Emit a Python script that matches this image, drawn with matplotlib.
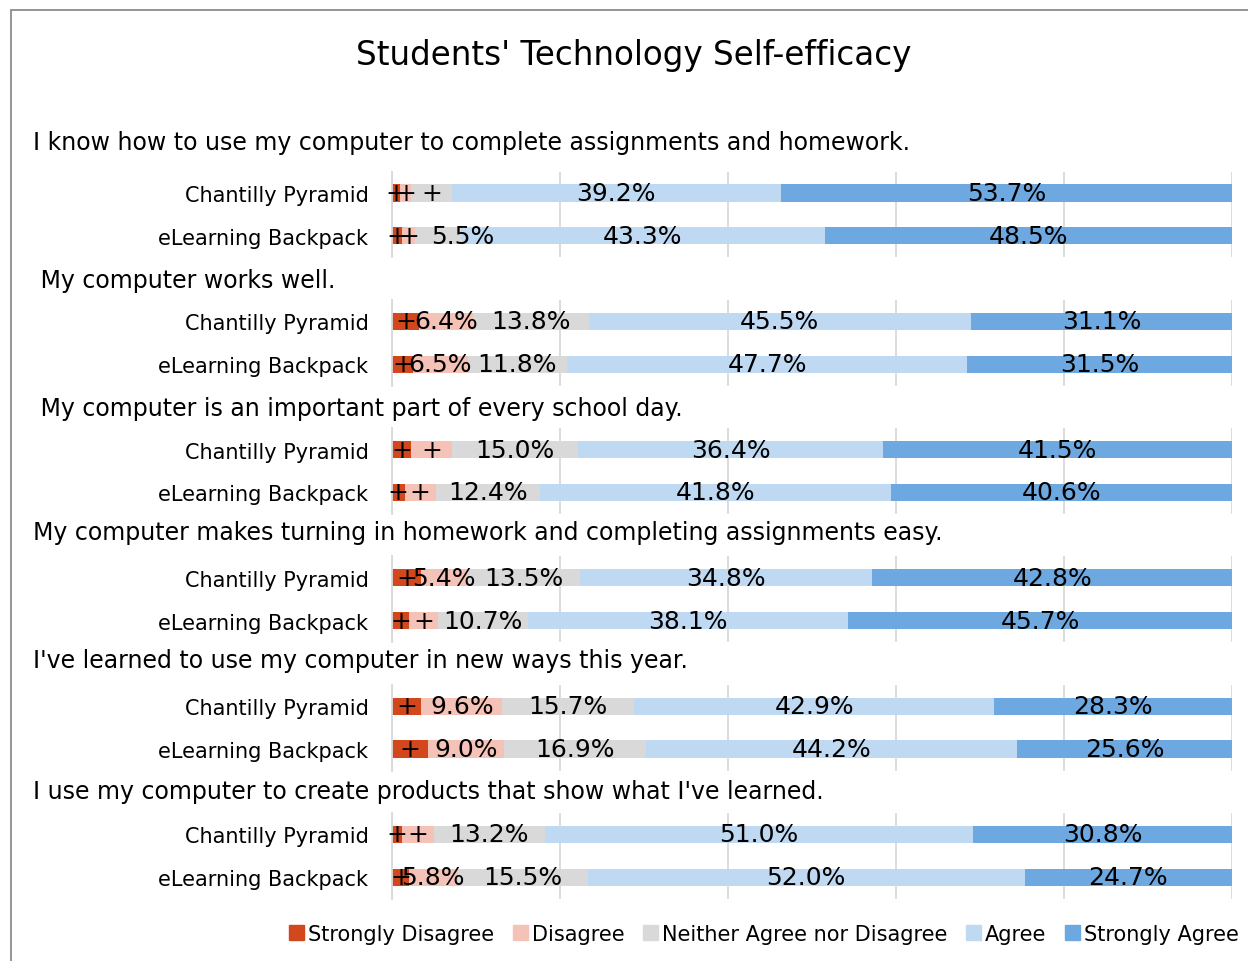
"""Students' technology self-efficacy: stacked Likert bars per survey question."""

import matplotlib
matplotlib.use("Agg")
import matplotlib.pyplot as plt
from matplotlib.patches import Rectangle, Patch

# --- data -------------------------------------------------------------------
questions = [
    "I know how to use my computer to complete assignments and homework.",
    " My computer works well.",
    " My computer is an important part of every school day.",
    "My computer makes turning in homework and completing assignments easy.",
    "I've learned to use my computer in new ways this year.",
    "I use my computer to create products that show what I've learned.",
]
groups = ["Chantilly Pyramid", "eLearning Backpack"]
responses = ["Strongly Disagree", "Disagree", "Neither Agree nor Disagree",
             "Agree", "Strongly Agree"]

# percent per question, [Chantilly, eLearning]
strongly_disagree = [[1.0, 1.2], [3.2, 2.5], [2.3, 1.5], [3.5, 2.0], [3.5, 4.3], [1.2, 2.0]]
disagree          = [[1.3, 1.5], [6.4, 6.5], [4.8, 3.7], [5.4, 3.5], [9.6, 9.0], [3.8, 5.8]]
neither           = [[4.8, 5.5], [13.8, 11.8], [15.0, 12.4], [13.5, 10.7], [15.7, 16.9], [13.2, 15.5]]
agree             = [[39.2, 43.3], [45.5, 47.7], [36.4, 41.8], [34.8, 38.1], [42.9, 44.2], [51.0, 52.0]]
strongly_agree    = [[53.7, 48.5], [31.1, 31.5], [41.5, 40.6], [42.8, 45.7], [28.3, 25.6], [30.8, 24.7]]

series = [strongly_disagree, disagree, neither, agree, strongly_agree]
colors = ["#D2471C", "#F4C2B6", "#D9D9D9", "#C0D9F2", "#6EA8E0"]

# --- layout (pixels) --------------------------------------------------------
W, H = 1248, 962
X0, X1 = 392, 1232          # 0% and 100%
TOP0 = 172.5                # top of first group's plot area
GROUP_STEP = 128.3
ROW = 42.9
HEADER_Y = [143, 281, 409, 533, 661, 792]

plt.rcParams["font.family"] = "DejaVu Sans"
fig = plt.figure(figsize=(W / 100, H / 100), dpi=100)

# chart frame (only left/top visible in the crop)
fig.patches.append(Rectangle((11 / W, -0.1), 1.2, 1 - 11 / H + 0.1,
                             transform=fig.transFigure, fill=False,
                             edgecolor="#8C8C8C", linewidth=1.3))

fig.text(634 / W, 1 - 55 / H, "Students' Technology Self-efficacy",
         ha="center", va="center", fontsize=23.5)

for qi, question in enumerate(questions):
    top = TOP0 + GROUP_STEP * qi
    ax = fig.add_axes([X0 / W, 1 - (top + 2 * ROW) / H, (X1 - X0) / W, 2 * ROW / H])
    ypos = [0, 1]
    left = [0.0, 0.0]
    for s, vals in enumerate(series):
        v = vals[qi]
        ax.barh(ypos, v, left=left, height=0.4, color=colors[s], zorder=2)
        for r in range(2):
            txt = f"{v[r]:.1f}%" if v[r] >= 5 else "+"
            xc = left[r] + v[r] / 2
            # Excel nudged this label right, clear of the "+" marks
            if qi == 0 and r == 1 and s == 2:
                xc += 3
            ax.text(xc, ypos[r], txt, ha="center", va="center",
                    fontsize=18, zorder=3)
        left = [left[r] + v[r] for r in range(2)]

    ax.set_xlim(0, 100)
    ax.set_ylim(1.5, -0.5)
    ax.set_xticks([0, 20, 40, 60, 80, 100])
    ax.xaxis.grid(True, color="#D9D9D9", linewidth=1.3, zorder=0)
    ax.tick_params(axis="x", length=0, labelbottom=False)
    ax.set_yticks(ypos)
    ax.set_yticklabels(groups, fontsize=15)
    ax.tick_params(axis="y", length=0, pad=17)
    for side in ["top", "right", "bottom"]:
        ax.spines[side].set_visible(False)
    ax.spines["left"].set_color("#D9D9D9")
    ax.spines["left"].set_linewidth(1.3)
    ax.set_facecolor("none")

    fig.text(33 / W, 1 - HEADER_Y[qi] / H, question, ha="left", va="center",
             fontsize=17)

handles = [Patch(color=c, label=l) for c, l in zip(colors, responses)]
fig.legend(handles=handles, loc="center", bbox_to_anchor=(764 / W, 1 - 935 / H),
           ncol=5, frameon=False, fontsize=15, handlelength=0.7,
           handleheight=0.7, handletextpad=0.2, columnspacing=0.9)

fig.savefig("out.png", dpi=100)
